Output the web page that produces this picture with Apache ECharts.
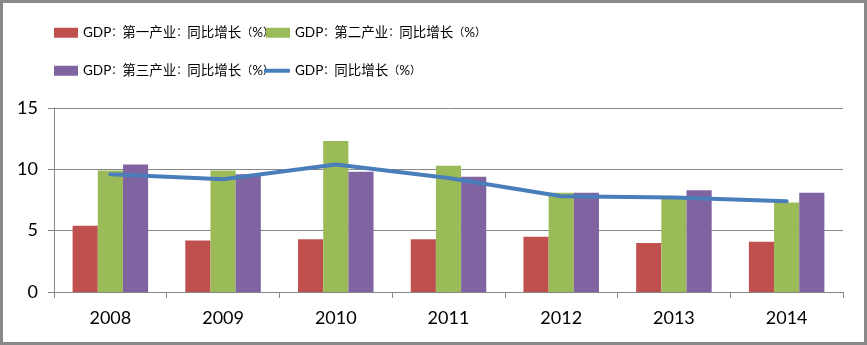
<!DOCTYPE html>
<html>
<head>
<meta charset="utf-8">
<script src="https://cdn.jsdelivr.net/npm/echarts@6/dist/echarts.min.js"></script>
<style>
  html, body { margin: 0; padding: 0; background: #fff; }
  #chart { width: 867px; height: 345px; }
</style>
</head>
<body>
<div id="chart"></div>
<script>
// China GDP growth by sector, 2008-2014 (year-on-year, %)
const years = ['2008', '2009', '2010', '2011', '2012', '2013', '2014'];
const primaryGrowth = [5.4, 4.2, 4.3, 4.3, 4.5, 4.0, 4.1];
const secondaryGrowth = [9.9, 9.9, 12.3, 10.3, 8.1, 7.8, 7.3];
const tertiaryGrowth = [10.4, 9.6, 9.8, 9.4, 8.1, 8.3, 8.1];
const gdpGrowth = [9.6, 9.2, 10.4, 9.3, 7.8, 7.7, 7.4];
const yTicks = [0, 5, 10, 15];

const names = [
  'GDP：第一产业：同比增长（%）',
  'GDP：第二产业：同比增长（%）',
  'GDP：第三产业：同比增长（%）',
  'GDP：同比增长（%）'
];

const fontStack = "Lato, 'Noto Sans CJK SC', sans-serif";
// Full-width punctuation is set a little tighter so each entry stays compact.
const legendText = {
  fontSize: 13.5, color: '#000', fontFamily: fontStack,
  rich: { p: { fontSize: 11, color: '#000', fontFamily: fontStack } }
};
function legendAt(name, left, top, isLine) {
  return {
    data: [{ name: name, icon: isLine ? 'roundRect' : 'rect' }],
    left: left, top: top, padding: 0,
    itemWidth: isLine ? 26 : 24, itemHeight: isLine ? 4 : 10,
    itemGap: 0,
    formatter: n => n.replace(/([：（）])/g, '{p|$1}'),
    textStyle: legendText
  };
}

const chart = echarts.init(document.getElementById('chart'), null, { renderer: 'canvas' });
chart.setOption({
  animation: false,
  backgroundColor: '#fff',
  graphic: [{
    type: 'rect',
    shape: { x: 1.5, y: 1.5, width: 864, height: 342 },
    style: { fill: 'none', stroke: '#898989', lineWidth: 3 },
    silent: true
  }],
  legend: [
    legendAt(names[0], 54, 26, false),
    legendAt(names[1], 266, 26, false),
    legendAt(names[2], 54, 64, false),
    legendAt(names[3], 264, 64, true)
  ],
  grid: { left: 54, right: 24, top: 108, bottom: 53, containLabel: false },
  xAxis: {
    type: 'category',
    data: years,
    boundaryGap: true,
    axisLine: { show: true, lineStyle: { color: '#868686', width: 1 } },
    axisTick: { show: true, length: 6, alignWithLabel: false, lineStyle: { color: '#868686' } },
    axisLabel: { fontSize: 18, color: '#000', margin: 17, fontFamily: 'Lato, sans-serif' },
    splitLine: { show: false }
  },
  yAxis: {
    type: 'value',
    min: yTicks[0],
    max: yTicks[yTicks.length - 1],
    interval: yTicks[1] - yTicks[0],
    axisLine: { show: true, lineStyle: { color: '#868686', width: 1 } },
    axisTick: { show: true, length: 6, lineStyle: { color: '#868686' } },
    axisLabel: { fontSize: 18, color: '#000', margin: 16, fontFamily: 'Lato, sans-serif' },
    splitLine: { show: true, lineStyle: { color: '#868686', width: 1 } }
  },
  series: [
    { name: names[0], type: 'bar', data: primaryGrowth, itemStyle: { color: '#c0504d' },
      barGap: '0%', barCategoryGap: '33%' },
    { name: names[1], type: 'bar', data: secondaryGrowth, itemStyle: { color: '#9bbb59' },
      barGap: '0%', barCategoryGap: '33%' },
    { name: names[2], type: 'bar', data: tertiaryGrowth, itemStyle: { color: '#8064a2' },
      barGap: '0%', barCategoryGap: '33%' },
    { name: names[3], type: 'line', data: gdpGrowth, symbol: 'none', z: 5,
      itemStyle: { color: '#4a7ebb' },
      lineStyle: { color: '#4a7ebb', width: 4, cap: 'round', join: 'round' } }
  ]
});
</script>
</body>
</html>
